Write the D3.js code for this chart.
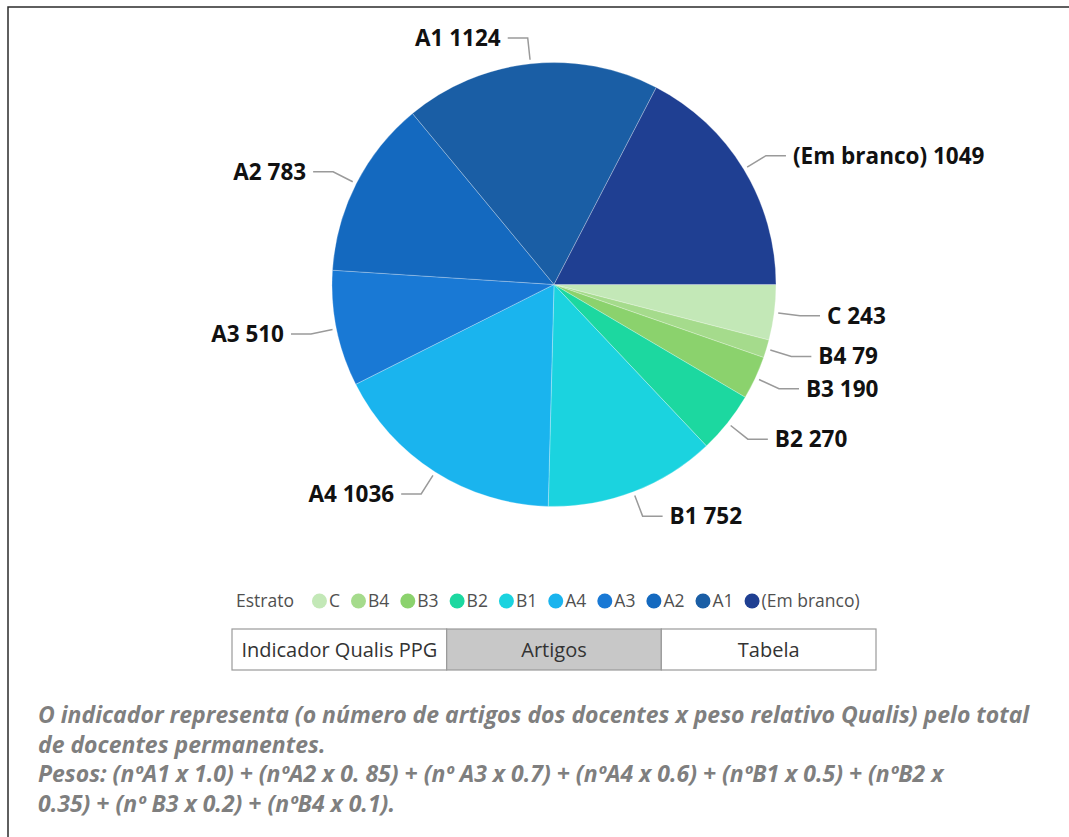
<!DOCTYPE html>
<html>
<head>
<meta charset="utf-8">
<script src="https://cdn.jsdelivr.net/npm/d3@7"></script>
<style>
  body { margin: 0; background: #fff; }
  svg { display: block; }
</style>
</head>
<body>
<svg id="chart"></svg>
<script>
let w = 1069;
let h = 837;

// data
let categories = ["C", "B4", "B3", "B2", "B1", "A4", "A3", "A2", "A1", "(Em branco)"];
let values = [243, 79, 190, 270, 752, 1036, 510, 783, 1124, 1049];
let colors = ["#c3e8b7", "#a5db8c", "#8bd26d", "#1cd8a0", "#1bd3df", "#1ab4ee", "#1979d5", "#1469bf", "#1a5ea5", "#1f3f92"];
let legendTitle = "Estrato";
let buttonLabels = ["Indicador Qualis PPG", "Artigos", "Tabela"];
let activeButton = "Artigos";
let noteLines = [
  "O indicador representa (o número de artigos dos docentes x peso relativo Qualis) pelo total",
  "de docentes permanentes.",
  "Pesos: (nºA1 x 1.0) + (nºA2 x 0. 85) + (nº A3 x 0.7) + (nºA4 x 0.6) + (nºB1 x 0.5) + (nºB2 x",
  "0.35) + (nº B3 x 0.2) + (nºB4 x 0.1)."
];

let dataset = categories.map((c, i) => ({ cat: c, value: values[i] }));

let chart1 = d3.select("#chart")
  .attr("width", w)
  .attr("height", h);

// frame
chart1.append("rect")
  .attr("x", 8).attr("y", 7)
  .attr("width", w + 20).attr("height", h + 20)
  .attr("fill", "none")
  .attr("stroke", "#2b2b2b")
  .attr("stroke-width", 1.5);

let cx = 554, cy = 284.5, R = 222;
let cScale = d3.scaleOrdinal().domain(categories).range(colors);

let pie = d3.pie()
  .sort(null)
  .value(d => d.value)
  .startAngle(Math.PI / 2)
  .endAngle(Math.PI / 2 + 2 * Math.PI);

let arc = d3.arc().innerRadius(0).outerRadius(R);
let arcs = pie(dataset);

let pieGroup = chart1.append("g")
  .attr("transform", `translate(${cx}, ${cy})`);

pieGroup.selectAll("path.slice")
  .data(arcs)
  .join("path")
  .attr("class", "slice")
  .attr("d", arc)
  .attr("fill", d => cScale(d.data.cat))
  .attr("stroke", "#fff")
  .attr("stroke-opacity", 0.45)
  .attr("stroke-width", 0.6);

// labels with leader lines
function pointAt(angle, r) {
  return [r * Math.sin(angle), -r * Math.cos(angle)];
}

arcs.forEach(d => {
  let mid = (d.startAngle + d.endAngle) / 2;
  let side = Math.sin(mid) > 0 ? 1 : -1;
  let p0 = pointAt(mid, R + 4);
  let p1 = pointAt(mid, R + 26);
  let p2 = [p1[0] + side * 20, p1[1]];

  pieGroup.append("polyline")
    .attr("points", [p0, p1, p2].map(p => p.join(",")).join(" "))
    .attr("fill", "none")
    .attr("stroke", "#9a9a9a")
    .attr("stroke-width", 1.5);

  pieGroup.append("text")
    .attr("x", p2[0] + side * 7)
    .attr("y", p2[1])
    .attr("dy", "0.35em")
    .attr("text-anchor", side > 0 ? "start" : "end")
    .attr("font-family", "'Open Sans', sans-serif")
    .attr("font-weight", "bold")
    .attr("font-size", 22.5)
    .attr("fill", "#111")
    .text(d.data.cat + " " + d.data.value);
});

// legend
let legend = chart1.append("g")
  .attr("transform", "translate(236, 601)")
  .attr("font-family", "'Open Sans', sans-serif")
  .attr("font-size", 17.5)
  .attr("fill", "#505050");

let title = legend.append("text")
  .attr("x", 0).attr("dy", "0.35em")
  .text(legendTitle);

let lx = title.node().getComputedTextLength() + 18;
categories.forEach(c => {
  legend.append("circle")
    .attr("cx", lx + 7.5).attr("cy", 0).attr("r", 7.5)
    .attr("fill", cScale(c));
  let t = legend.append("text")
    .attr("x", lx + 17).attr("dy", "0.35em")
    .text(c);
  lx += 17 + t.node().getComputedTextLength() + 11;
});

// buttons
let bScale = d3.scaleBand()
  .domain(buttonLabels)
  .range([232, 876]);

let buttons = chart1.append("g");
buttons.selectAll("rect")
  .data(buttonLabels)
  .join("rect")
  .attr("x", d => bScale(d))
  .attr("y", 629)
  .attr("width", bScale.bandwidth())
  .attr("height", 41)
  .attr("fill", d => d === activeButton ? "#c8c8c8" : "#fff")
  .attr("stroke", "#9a9a9a")
  .attr("stroke-width", 1.2);

buttons.selectAll("text")
  .data(buttonLabels)
  .join("text")
  .attr("x", d => bScale(d) + bScale.bandwidth() / 2)
  .attr("y", 650)
  .attr("dy", "0.35em")
  .attr("text-anchor", "middle")
  .attr("font-family", "'Open Sans', sans-serif")
  .attr("font-size", 20)
  .attr("fill", "#333")
  .text(d => d);

// note text
chart1.append("g")
  .selectAll("text")
  .data(noteLines)
  .join("text")
  .attr("x", 38)
  .attr("y", (d, i) => 723 + i * 29.5)
  .attr("font-family", "'Open Sans', sans-serif")
  .attr("font-weight", "bold")
  .attr("font-style", "italic")
  .attr("font-size", 23)
  .attr("fill", "#7f7f7f")
  .text(d => d);
</script>
</body>
</html>
